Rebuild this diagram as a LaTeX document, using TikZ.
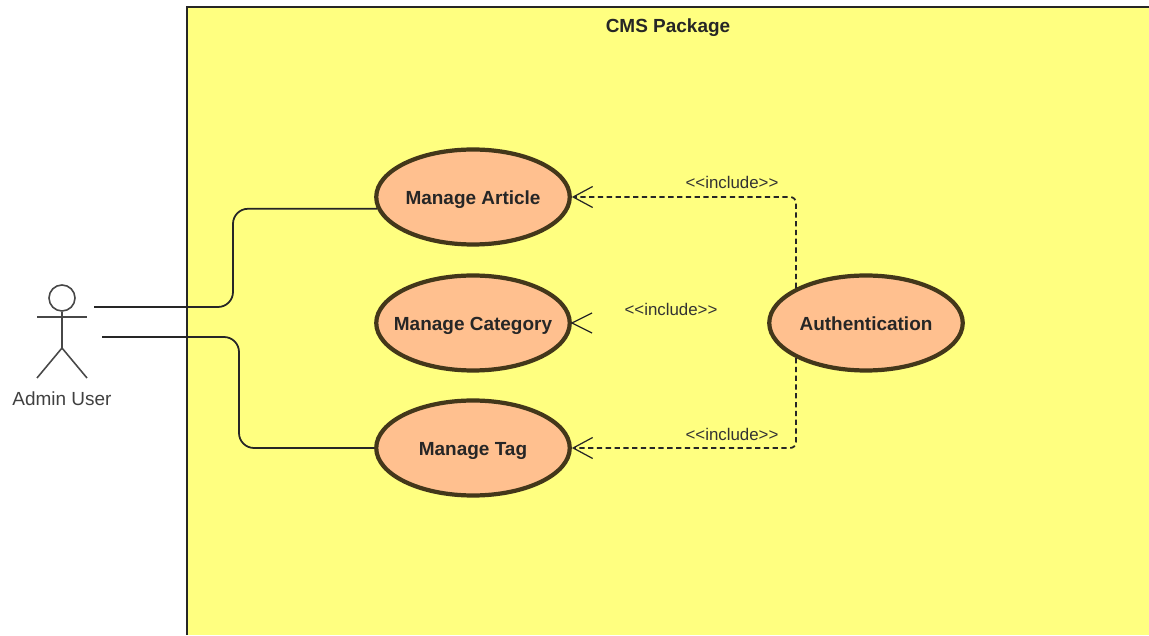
\documentclass[tikz,border=0pt]{standalone}
\usepackage{fontspec}
\setmainfont{Liberation Sans}
\usetikzlibrary{arrows.meta, shapes.geometric}
\definecolor{packagefill}{HTML}{FFFF80}
\definecolor{casefill}{HTML}{FFC08F}
\definecolor{caseline}{HTML}{43371A}
\definecolor{inkline}{HTML}{262626}
\begin{document}
\begin{tikzpicture}[
        usecase/.style={ellipse, draw=caseline, line width=2.4pt, fill=casefill, minimum width=3.87cm, minimum height=1.9cm, inner xsep=-8pt, inner ysep=0pt, text height=8pt, text depth=0pt, font=\fontsize{10.8}{13}\selectfont\bfseries, text=black!85},
        assoc/.style={draw=inkline, line width=1pt, rounded corners=0.3cm},
        dep/.style={draw=black!85, line width=1pt, dashed, dash pattern=on 3pt off 2pt, rounded corners=0.12cm, -{Straight Barb[length=3.9mm, width=4.2mm, line width=0.7pt]}},
        limb/.style={draw=inkline!85, line width=0.9pt},
        edge_label/.style={font=\fontsize{9.6}{12}\selectfont, text=black!80, inner sep=0pt}
    ]
        \useasboundingbox (0,0) rectangle (22.98,12.7);

        % Package box
        \fill[packagefill] (3.74,0) rectangle (22.98,12.56);
        \draw[inkline, line width=0.7pt] (3.74,0) |- (22.98,12.56);
        \node[font=\fontsize{10.8}{13}\selectfont\bfseries, text=black!85, inner sep=0pt] (package_title) at (13.36,12.14) {CMS Package};

        % Use cases
        \node[usecase] (article) at (9.46,8.76) {Manage Article};
        \node[usecase] (category) at (9.46,6.24) {Manage Category};
        \node[usecase] (tag) at (9.46,3.74) {Manage Tag};
        \node[usecase] (auth) at (17.32,6.24) {Authentication};

        % Actor
        \node[circle, draw=inkline!85, line width=0.9pt, minimum size=0.52cm, inner sep=0pt] (head) at (1.24,6.74) {};
        \coordinate (hip) at (1.24,5.74);
        \coordinate (arm_l) at (0.74,6.36);
        \coordinate (arm_r) at (1.74,6.36);
        \coordinate (foot_l) at (0.74,5.14);
        \coordinate (foot_r) at (1.74,5.14);
        \draw[limb] (head) -- (hip);
        \draw[limb] (arm_l) -- (arm_r);
        \draw[limb] (foot_l) -- (hip) -- (foot_r);
        \node[font=\fontsize{10.8}{13}\selectfont, text=black!75, inner sep=0pt] (actor_label) at (1.24,4.72) {Admin User};

        % Associations
        \coordinate (actor_a) at (1.88,6.56);
        \coordinate (bend_a) at (4.66,6.56);
        \coordinate (actor_b) at (2.04,5.96);
        \coordinate (bend_b) at (4.78,5.96);
        \draw[assoc] (actor_a) -- (bend_a) |- (article.187);
        \draw[assoc] (actor_b) -- (bend_b) |- (tag.west);

        % Includes
        \draw[dep] (auth.north west) |- (article.east);
        \draw[dep] (auth.south west) |- (tag.east);
        \coordinate (barb_top) at (11.84,6.44);
        \coordinate (barb_bot) at (11.84,6.04);
        \draw[draw=black!85, line width=0.7pt] (barb_top) -- (category.east) -- (barb_bot);
        \node[edge_label] (label_article) at (14.64,9.06) {<{}<include>{}>};
        \node[edge_label] (label_category) at (13.42,6.52) {<{}<include>{}>};
        \node[edge_label] (label_tag) at (14.64,4.02) {<{}<include>{}>};
    \end{tikzpicture}
\end{document}
